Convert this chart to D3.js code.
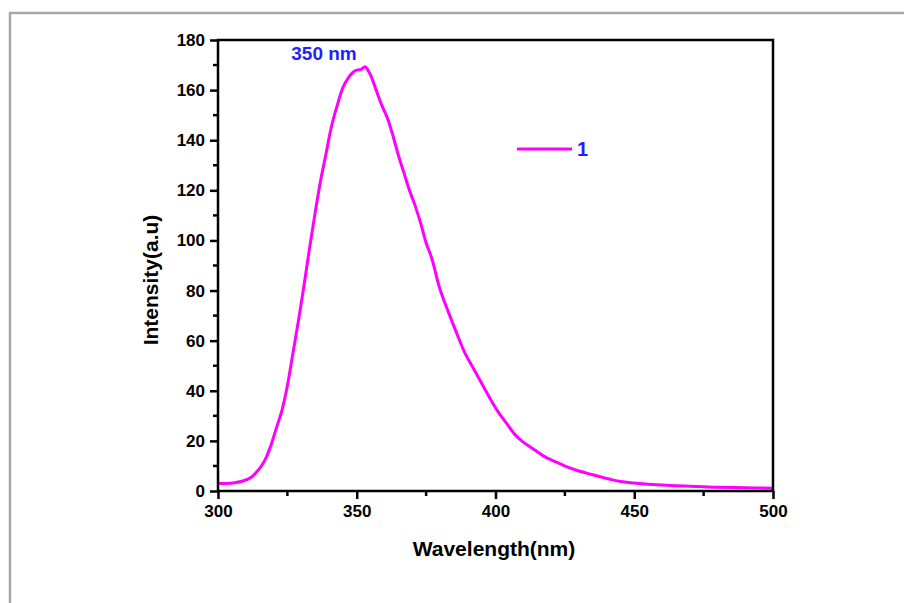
<!DOCTYPE html>
<html>
<head>
<meta charset="utf-8">
<script src="https://cdn.jsdelivr.net/npm/d3@7"></script>
<style>
  body { margin: 0; background: #fff; }
  svg { display: block; font-family: "Liberation Sans", Arial, sans-serif; }
</style>
</head>
<body>
<svg></svg>
<script>
const width = 904;
const height = 603;

// emission spectrum
const wavelengths = [300, 303, 306, 309, 312, 315, 317, 319, 321, 323, 325, 327, 329, 331, 333, 335, 337, 339, 341, 343, 345, 347, 348.5, 350, 351.5, 353, 354, 355, 357, 359, 361, 363, 365, 367, 369, 371, 373, 375, 377, 380, 383, 386, 389, 392, 395, 398, 401, 404, 407, 410, 414, 418, 422, 426, 430, 435, 438, 445, 450, 455, 460, 465, 470, 475, 480, 490, 500];
const intensities = [3.1, 3.0, 3.3, 4.0, 5.5, 9.0, 12.5, 18, 25, 32, 42, 55, 68, 82, 97, 111, 124, 135, 146, 154, 161, 165, 167, 168, 168.2, 169.3, 168, 166, 160, 154, 149, 142, 134, 127, 120, 114, 107, 99, 93, 80.5, 71.5, 63, 55, 49, 43, 37, 31.5, 27, 22.5, 19.5, 16.5, 13.5, 11.5, 9.5, 8, 6.5, 5.6, 3.8, 3.2, 2.7, 2.4, 2.1, 1.9, 1.7, 1.5, 1.3, 1.1];
const xTicks = [300, 350, 400, 450, 500];
const yTicks = [0, 20, 40, 60, 80, 100, 120, 140, 160, 180];
const seriesName = "1";
const peakLabel = "350 nm";

const plotLeft = 218, plotRight = 773, plotTop = 40, plotBottom = 491;

const svg = d3.select("svg")
    .attr("width", width)
    .attr("height", height);

// gray page frame
svg.append("rect")
    .attr("x", 10).attr("y", 13)
    .attr("width", 1000).attr("height", 700)
    .attr("fill", "none")
    .attr("stroke", "#a8a8a8")
    .attr("stroke-width", 2.5);

const x = d3.scaleLinear().domain([300, 500]).range([plotLeft, plotRight]);
const y = d3.scaleLinear().domain([0, 180]).range([plotBottom, plotTop]);

const data = wavelengths.map((w, i) => ({ w, v: intensities[i] }));

const line = d3.line()
    .x(d => x(d.w))
    .y(d => y(d.v))
    .curve(d3.curveCatmullRom);

svg.append("path")
    .datum(data)
    .attr("fill", "none")
    .attr("stroke", "#ff00ff")
    .attr("stroke-width", 3)
    .attr("d", line);

// minor ticks
const xMinor = d3.range(325, 500, 50);
const yMinor = d3.range(10, 180, 20);

svg.append("g").selectAll("line")
    .data(xMinor)
    .enter().append("line")
    .attr("x1", d => x(d)).attr("x2", d => x(d))
    .attr("y1", plotBottom).attr("y2", plotBottom + 5)
    .attr("stroke", "#000").attr("stroke-width", 2.5);

svg.append("g").selectAll("line")
    .data(yMinor)
    .enter().append("line")
    .attr("x1", plotLeft - 5).attr("x2", plotLeft)
    .attr("y1", d => y(d)).attr("y2", d => y(d))
    .attr("stroke", "#000").attr("stroke-width", 2.5);

const xAxis = svg.append("g")
    .attr("transform", `translate(0,${plotBottom})`)
    .call(d3.axisBottom(x).tickValues(xTicks).tickSize(8).tickPadding(6).tickFormat(d3.format("d")));

const yAxis = svg.append("g")
    .attr("transform", `translate(${plotLeft},0)`)
    .call(d3.axisLeft(y).tickValues(yTicks).tickSize(8).tickPadding(5).tickFormat(d3.format("d")));

[xAxis, yAxis].forEach(g => {
    g.select(".domain").remove();
    g.selectAll(".tick line").attr("stroke", "#000").attr("stroke-width", 2.5);
    g.selectAll(".tick text")
        .attr("fill", "#000")
        .style("font-size", "17px")
        .style("font-weight", "bold")
        .style("font-family", "'Liberation Sans', Arial, sans-serif");
});

// frame box
svg.append("rect")
    .attr("x", plotLeft).attr("y", plotTop)
    .attr("width", plotRight - plotLeft).attr("height", plotBottom - plotTop)
    .attr("fill", "none")
    .attr("stroke", "#000")
    .attr("stroke-width", 2.5);

svg.append("text")
    .attr("x", 494)
    .attr("y", 556)
    .attr("text-anchor", "middle")
    .style("font-size", "21px")
    .style("font-weight", "bold")
    .text("Wavelength(nm)");

svg.append("text")
    .attr("transform", `translate(158,280) rotate(-90)`)
    .attr("text-anchor", "middle")
    .style("font-size", "21px")
    .style("font-weight", "bold")
    .text("Intensity(a.u)");

svg.append("text")
    .attr("x", 324)
    .attr("y", 60)
    .attr("text-anchor", "middle")
    .attr("fill", "#1f1fff")
    .style("font-size", "19px")
    .style("font-weight", "bold")
    .text(peakLabel);

// legend
const legend = svg.append("g").attr("transform", "translate(517,149)");
legend.append("line")
    .attr("x1", 0).attr("x2", 55)
    .attr("stroke", "#ff00ff").attr("stroke-width", 3);
legend.append("text")
    .attr("x", 60).attr("y", 7)
    .attr("fill", "#1f1fff")
    .style("font-size", "20px")
    .style("font-weight", "bold")
    .text(seriesName);
</script>
</body>
</html>
